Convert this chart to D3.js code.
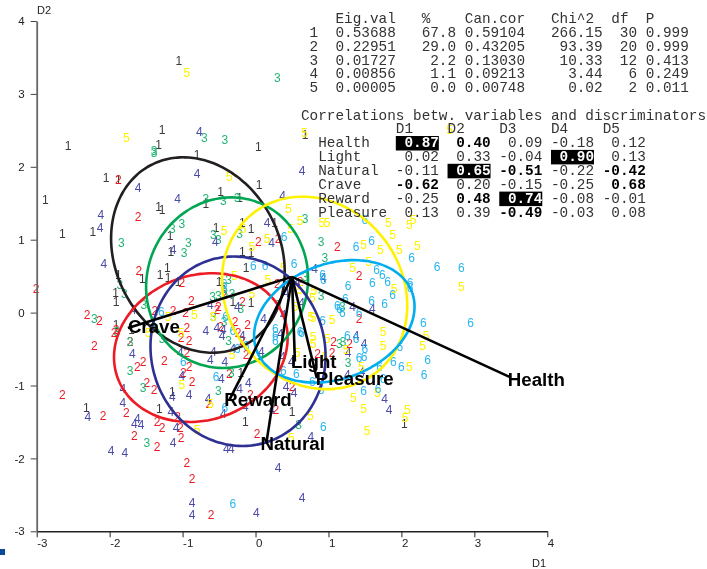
<!DOCTYPE html>
<html>
<head>
<meta charset="utf-8">
<script src="https://cdnjs.cloudflare.com/ajax/libs/d3/7.8.5/d3.min.js"></script>
<style>
  html, body { margin: 0; padding: 0; background: #fff; }
  /* own layer without a backdrop, so text gets greyscale antialiasing */
  svg { display: block; will-change: transform; }
  text { font-family: "Liberation Sans", Arial, sans-serif; }
</style>
</head>
<body>
<div id="chart"></div>
<script>
// Scores on the first two discriminators, one list per group.
const group1 = [[-1.05,3.45],[-1.28,2.51],[-1.33,2.31],[-2.57,2.29],[-2.05,1.85],[-1.88,1.82],[-0.80,2.16],[-0.48,1.66],[-2.88,1.55],[-1.33,1.45],[-1.28,1.41],[-0.68,1.50],[-0.22,1.57],[0.04,2.27],[0.05,1.75],[0.68,2.44],[-2.65,1.08],[-2.23,1.11],[-0.54,1.16],[-1.17,1.05],[-1.16,0.83],[-0.18,1.23],[-0.06,1.15],[0.26,1.24],[-0.18,0.83],[-0.06,0.82],[-0.13,0.61],[-1.88,0.52],[-1.92,0.28],[-1.91,0.15],[-1.55,0.46],[-1.31,0.52],[-1.21,0.61],[-1.20,0.48],[-1.06,0.42],[-0.50,0.42],[-0.46,0.42],[-0.31,0.15],[-0.06,0.13],[-1.91,-0.17],[-1.70,-0.24],[-1.14,-1.09],[-1.32,-1.32],[-2.32,-1.31],[-0.14,-1.49],[-0.20,-0.83],[0.50,-1.36],[2.04,-1.53]];
const group2 = [[-1.88,1.82],[-1.61,1.31],[-3.01,0.33],[-1.60,0.57],[-1.01,0.41],[-0.88,0.17],[-1.38,0.02],[-1.13,0.02],[-0.96,0.00],[-2.31,-0.03],[-2.14,-0.11],[-1.91,-0.24],[-1.94,-0.28],[-0.94,-0.20],[-1.02,-0.35],[-0.91,-0.39],[-1.72,-0.40],[-2.21,-0.46],[-1.54,-0.68],[-1.62,-0.74],[-1.25,-0.66],[-0.94,-0.55],[-0.91,-0.74],[-0.99,-0.83],[-0.87,-0.95],[-1.49,-0.96],[-1.39,-1.06],[-2.65,-1.12],[-2.09,-1.42],[-1.77,-1.37],[-1.35,-1.50],[-1.28,-1.58],[-1.66,-1.69],[-1.35,-1.84],[-1.07,-1.43],[-1.03,-1.58],[-1.02,-1.71],[-0.94,-2.06],[-0.87,-2.28],[-0.61,-2.77],[-0.64,-1.25],[-0.07,-1.13],[-0.36,-0.84],[0.02,-1.66],[0.28,-1.33],[0.50,-1.02],[0.85,-0.57],[1.05,-0.55],[1.07,-0.40],[1.29,-0.42],[1.42,-0.09],[1.42,0.50],[1.12,0.91],[0.61,0.42],[0.31,1.02],[0.04,0.97],[0.30,0.39],[-0.43,0.24],[-0.51,0.08],[-0.53,0.04],[-0.18,0.15],[-0.28,-0.13],[-0.11,-0.16],[-0.48,-0.19],[-0.24,-0.28],[-0.18,-0.39],[-0.13,-0.58]];
const group3 = [[-0.70,2.40],[-0.42,2.37],[-1.39,2.22],[-1.39,2.19],[0.30,3.22],[-0.68,1.56],[-0.44,1.53],[-0.25,1.57],[-1.01,1.22],[-1.14,1.15],[-1.84,0.96],[-0.92,0.96],[-0.98,0.82],[-0.58,1.07],[-0.51,1.00],[-0.22,1.08],[-1.86,0.38],[-1.80,0.26],[-1.53,0.11],[-2.21,-0.09],[-1.90,-0.26],[-1.72,-0.40],[-1.72,-0.80],[-1.54,-1.03],[-1.49,-1.79],[-1.28,-0.36],[-0.51,-1.07],[-0.33,-0.83],[-0.37,-0.39],[-0.58,-0.06],[-0.59,0.22],[-0.51,0.23],[-0.32,0.26],[-0.37,0.45],[-0.42,0.27],[-0.20,0.06],[-0.43,-0.13],[0.31,0.11],[0.59,-1.54],[0.68,1.29],[0.90,0.97],[0.95,0.76],[0.68,0.49],[0.90,0.23],[1.19,0.08],[1.15,-0.43],[1.20,-0.40],[1.27,-0.69]];
const group4 = [[-0.77,2.48],[-0.80,1.90],[-1.61,1.71],[-1.07,1.56],[0.64,1.94],[0.37,1.60],[-2.12,1.35],[-2.13,1.16],[-1.13,0.86],[-0.55,0.97],[-2.08,0.67],[-1.68,0.04],[-0.62,0.11],[-0.25,0.08],[0.22,0.96],[0.16,1.24],[-0.68,-0.25],[-0.53,-0.20],[-0.44,-0.24],[-0.46,-0.31],[-0.18,-0.32],[-0.31,-0.50],[-0.58,-0.53],[-0.62,-0.64],[-0.42,-0.68],[-1.03,-0.55],[-1.01,-0.87],[-1.69,-0.57],[-1.82,-1.05],[-1.82,-1.24],[-1.14,-1.16],[-0.91,-1.12],[-2.30,-1.43],[-1.62,-1.46],[-1.66,-1.53],[-1.57,-1.54],[-1.16,-1.36],[-1.09,-1.58],[-1.13,-1.79],[-1.98,-1.90],[-1.79,-1.92],[-0.87,-2.61],[-0.87,-2.77],[0.01,-2.75],[-0.65,-1.18],[-0.47,-0.90],[-0.44,-1.38],[-0.10,-0.96],[-0.22,-1.05],[-0.14,-1.29],[0.22,-1.33],[-0.40,-1.86],[-0.33,-1.87],[0.31,-2.13],[0.64,-2.54],[0.76,-1.70],[0.42,-1.02],[0.53,-1.10],[1.26,-0.85],[1.46,-0.81],[1.77,-1.18],[1.83,-1.33],[1.27,-0.55],[1.49,-0.42],[1.38,-0.31],[1.60,0.06],[1.33,0.08],[0.93,0.48],[0.81,0.60],[0.11,-0.09],[0.34,-0.29],[0.08,-0.53],[0.37,-0.61],[0.49,-0.68],[0.42,0.27],[0.57,0.41],[0.63,0.13],[0.38,-0.03]];
const group5 = [[-0.94,3.29],[-1.77,2.40],[-0.36,1.86],[0.67,2.47],[2.66,2.51],[0.45,1.42],[0.61,1.26],[0.91,1.23],[0.98,1.23],[1.82,1.24],[2.11,1.20],[2.16,1.27],[1.88,1.07],[1.48,0.93],[1.71,0.86],[1.97,0.86],[2.22,0.92],[1.55,0.70],[1.33,0.61],[2.82,0.35],[1.90,0.33],[0.48,1.15],[0.16,1.02],[-0.05,0.90],[-0.17,1.15],[-0.43,1.12],[-0.29,0.50],[0.38,0.61],[0.17,0.45],[-0.05,0.26],[0.61,0.31],[0.80,0.30],[0.78,0.20],[0.54,0.08],[0.76,-0.06],[0.79,-0.07],[1.05,-0.10],[1.75,-0.26],[2.34,-0.32],[1.75,-0.46],[2.29,-0.46],[0.79,-0.33],[0.79,-0.42],[0.98,-0.36],[1.24,-0.51],[0.95,-0.61],[1.45,-0.74],[2.11,-0.74],[0.57,-0.55],[1.34,-1.17],[1.48,-1.32],[1.53,-1.62],[1.67,-1.10],[2.08,-1.33],[2.05,-1.44],[0.75,-1.42],[0.49,-1.72],[-0.80,-1.60],[-1.01,-0.99],[-0.62,-1.25],[-0.32,-0.58],[-1.02,-0.28],[-1.47,-0.28],[-1.20,-0.06],[-0.84,-0.03],[-0.58,-0.06]];
const group6 = [[0.53,0.67],[0.39,1.04],[1.38,0.90],[1.59,0.98],[1.50,1.27],[2.14,0.75],[2.49,0.63],[2.82,0.61],[1.66,0.59],[1.74,0.52],[1.81,0.43],[1.60,0.41],[2.12,0.41],[2.12,0.34],[1.27,0.37],[1.88,0.24],[1.59,0.17],[1.77,0.12],[0.92,0.52],[0.93,0.45],[1.23,0.19],[1.12,0.09],[1.15,0.05],[1.19,0.00],[1.42,0.00],[0.92,-0.11],[2.30,-0.14],[2.95,-0.14],[0.63,-0.28],[1.26,-0.31],[1.38,-0.36],[1.50,-0.50],[1.49,-0.61],[1.42,-0.62],[1.98,-0.47],[1.89,-0.68],[2.00,-0.74],[1.70,-0.74],[2.36,-0.64],[2.31,-0.85],[1.75,-0.91],[1.48,-1.07],[1.68,-1.05],[0.90,-1.06],[0.78,-0.95],[0.56,-0.84],[0.38,-0.79],[0.93,-1.57],[-0.31,-2.62],[-0.42,-1.31],[-0.54,-0.88],[-0.99,-0.68],[-1.29,0.01],[-0.41,-0.06],[-0.31,-0.25],[-0.13,-0.46],[-0.25,-0.50],[0.27,-0.22],[0.27,-0.31],[0.27,-0.39],[0.61,-0.26],[-0.43,0.39],[-0.43,0.34],[-0.03,0.64],[0.13,0.65]];

// Confidence ellipses, same order as the groups.
const groupNames = ['1', '2', '3', '4', '5', '6'];
const groupPoints = [group1, group2, group3, group4, group5, group6];
const groupColors = ['#3a3a3a', '#ed1c24', '#22b573', '#4a4aa8', '#fff200', '#29b6f0'];
const ellipseColors = ['#231f20', '#ed1c24', '#00a651', '#2e3192', '#fff200', '#00aeef'];
const ellipseCx = [-0.79, -0.75, -0.39, -0.24, 0.81, 1.08];
const ellipseCy = [0.79, -0.48, 0.41, -0.53, 0.27, -0.12];
const ellipseRx = [1.19, 1.19, 1.11, 1.20, 1.27, 1.10];
const ellipseRy = [1.34, 1.02, 1.17, 1.30, 1.32, 0.84];
const ellipseR = [-0.17, 0.13, 0.05, -0.05, -0.13, 0.24];

// Variable vectors, all starting from the same hub.
const hub = [0.50, 0.49];
const vectorNames = ['Health', 'Light', 'Pleasure', 'Natural', 'Reward', 'Crave'];
const vectorX = [3.50, 0.54, 0.84, 0.15, -0.36, -1.75];
const vectorY = [-0.89, -0.67, -0.90, -1.78, -1.20, -0.21];

// Axis ticks.
const xTicks = [-3, -2, -1, 0, 1, 2, 3, 4];
const yTicks = [-3, -2, -1, 0, 1, 2, 3, 4];

// Eigenvalue table.
const eigHeader = ['Eig.val', '%', 'Can.cor', 'Chi^2', 'df', 'P'];
const eigRows = [
  ' 1  0.53688   67.8 0.59104   266.15  30 0.999',
  ' 2  0.22951   29.0 0.43205    93.39  20 0.999',
  ' 3  0.01727    2.2 0.13030    10.33  12 0.413',
  ' 4  0.00856    1.1 0.09213     3.44   6 0.249',
  ' 5  0.00005    0.0 0.00748     0.02   2 0.011'
];

// Correlation table.
const corrTitle = 'Correlations betw. variables and discriminators';
const corrColumns = ['D1', 'D2', 'D3', 'D4', 'D5'];
const corrVariables = ['Health', 'Light', 'Natural', 'Crave', 'Reward', 'Pleasure'];
const corrValues = [
  ['0.87', '0.40', '0.09', '-0.18', '0.12'],
  ['0.02', '0.33', '-0.04', '0.90', '0.13'],
  ['-0.11', '0.65', '-0.51', '-0.22', '-0.42'],
  ['-0.62', '0.20', '-0.15', '-0.25', '0.68'],
  ['-0.25', '0.48', '0.74', '-0.08', '-0.01'],
  ['0.13', '0.39', '-0.49', '-0.03', '0.08']
];
const corrBold = ['0.40', '-0.51', '-0.42', '-0.62', '0.68', '0.48', '-0.49'];
const corrBoxed = ['0.87', '0.65', '0.90', '0.74'];

const width = 707;
const height = 569;

const svg = d3.select('#chart')
  .append('svg')
  .attr('width', width)
  .attr('height', height);

const x = d3.scaleLinear().domain([-3, 4]).range([36.7, 547.3]);
const y = d3.scaleLinear().domain([-3, 4]).range([531.3, 21]);

// Little square in the corner of the original export.
svg.append('rect')
  .attr('x', 0)
  .attr('y', 549)
  .attr('width', 5)
  .attr('height', 6)
  .style('fill', '#0b4a96');

// Group digits.
const digits = svg.append('g');
groupPoints.forEach((points, g) => {
  digits.append('g')
    .selectAll('text')
    .data(points)
    .enter()
    .append('text')
    .text(groupNames[g])
    .attr('x', d => x(d[0]))
    .attr('y', d => y(d[1]))
    .attr('dy', '0.36em')
    .style('text-anchor', 'middle')
    .style('font-size', '12px')
    .style('fill', groupColors[g]);
});

// Ellipses, drawn from centre, radii and correlation.
const angles = d3.range(0, 360, 3).map(d => d * Math.PI / 180);
groupNames.forEach((name, g) => {
  const delta = Math.acos(ellipseR[g]);
  const line = d3.line()
    .curve(d3.curveCardinalClosed)
    .x(t => x(ellipseCx[g] + ellipseRx[g] * Math.cos(t)))
    .y(t => y(ellipseCy[g] + ellipseRy[g] * Math.cos(t - delta)));
  svg.append('path')
    .attr('d', line(angles))
    .style('fill', 'none')
    .style('stroke', ellipseColors[g])
    .style('stroke-width', 2.6);
});

// Vectors and their names. The names sit a little off the line ends.
const labelDx = [-3, -4, -1, -6, -5, 0];
const labelDy = [2, 0, 0, 1, -1, -2];

const vectors = svg.append('g')
  .selectAll('g')
  .data(vectorNames)
  .enter()
  .append('g');

vectors.append('line')
  .attr('x1', x(hub[0]))
  .attr('y1', y(hub[1]))
  .attr('x2', (d, i) => x(vectorX[i]))
  .attr('y2', (d, i) => y(vectorY[i]))
  .style('stroke', '#000')
  .style('stroke-width', 2.6);

vectors.append('text')
  .text(d => d)
  .attr('x', (d, i) => x(vectorX[i]) + labelDx[i])
  .attr('y', (d, i) => y(vectorY[i]) + labelDy[i])
  .attr('dy', '0.36em')
  .style('font-size', '18.7px')
  .style('font-weight', 'bold')
  .style('fill', '#000');

// Axes. Plain hyphens on the negative ticks, like the original.
const xAxis = svg.append('g')
  .attr('transform', `translate(0, ${y(-3)})`)
  .call(d3.axisBottom(x).tickValues(xTicks).tickFormat(d => String(d)).tickSize(6).tickSizeOuter(0));
xAxis.select('.domain').style('stroke', '#222').style('stroke-width', 1.4);
xAxis.selectAll('.tick line').style('stroke', '#222').style('stroke-width', 1);
xAxis.selectAll('.tick text')
  .attr('y', 8)
  .style('text-anchor', 'start')
  .style('font-size', '11.5px')
  .style('font-family', '"Liberation Sans", Arial, sans-serif')
  .style('fill', '#222');

const yAxis = svg.append('g')
  .attr('transform', `translate(${x(-3)}, 0)`)
  .call(d3.axisLeft(y).tickValues(yTicks).tickFormat(d => String(d)).tickSize(6).tickSizeOuter(0));
yAxis.select('.domain').style('stroke', '#666').style('stroke-width', 1.8);
yAxis.selectAll('.tick line').style('stroke', '#444').style('stroke-width', 1);
yAxis.selectAll('.tick text')
  .attr('x', -12)
  .style('font-size', '11.5px')
  .style('font-family', '"Liberation Sans", Arial, sans-serif')
  .style('fill', '#222');

svg.append('text')
  .text('D2')
  .attr('x', 37)
  .attr('y', 13.5)
  .style('font-size', '11px')
  .style('fill', '#222');

svg.append('text')
  .text('D1')
  .attr('x', 532)
  .attr('y', 567)
  .style('font-size', '11px')
  .style('fill', '#222');

// Tables, laid out on a monospace character grid.
const charW = 8.62;
const charX = i => 301 + i * charW;
const monoText = (sel, str, col, py) => sel.append('text')
  .text(str)
  .attr('x', charX(col))
  .attr('y', py)
  .attr('xml:space', 'preserve')
  .style('white-space', 'pre')
  .style('font-family', '"Liberation Mono", monospace')
  .style('font-size', '14.37px')
  .style('fill', '#333');

const tables = svg.append('g');

const eigColumns = [4, 14, 19, 29, 36, 40];
eigHeader.forEach((h, i) => monoText(tables, h, eigColumns[i], 23));
eigRows.forEach((r, i) => monoText(tables, r, 0, 37 + i * 13.75));

monoText(tables, corrTitle, 0, 120);

const corrStart = [11, 17, 23, 29, 35];
corrColumns.forEach((c, i) => monoText(tables, c, corrStart[i], 133));

corrVariables.forEach((name, r) => {
  const rowY = 147 + r * 13.9;
  monoText(tables, name, 2, rowY);
  corrValues[r].forEach((value, c) => {
    const col = corrStart[c] + 5 - value.length;
    const boxed = corrBoxed.includes(value);
    if (boxed) {
      tables.append('rect')
        .attr('x', charX(corrStart[c]))
        .attr('y', rowY - 11)
        .attr('width', 43)
        .attr('height', 14.5)
        .style('fill', '#000');
    }
    const label = monoText(tables, value, col, rowY);
    if (boxed) {
      label.style('fill', '#fff').style('font-weight', 'bold');
    } else if (corrBold.includes(value)) {
      label.style('font-weight', 'bold').style('fill', '#000');
    }
  });
});
</script>
</body>
</html>
